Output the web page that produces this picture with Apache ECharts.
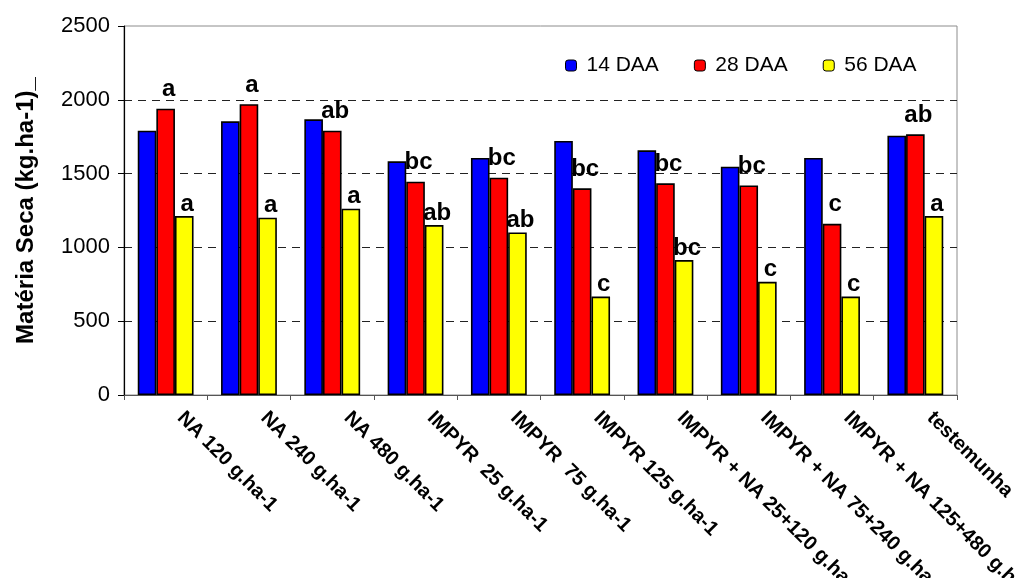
<!DOCTYPE html>
<html lang="pt">
<head>
    <meta charset="UTF-8">
    <title>Matéria Seca</title>
    <style>
        html, body {
            margin: 0;
            padding: 0;
            background: #ffffff;
        }
    </style>
</head>
<body>
<div id="chart-canvas" style="width: 1035px;height:578px"></div>
<script src="https://cdn.jsdelivr.net/npm/echarts@6/dist/echarts.min.js"></script>
<script type="text/javascript">
    // tratamentos
    const categories = [
        "NA 120 g.ha-1",
        "NA 240 g.ha-1",
        "NA 480 g.ha-1",
        "IMPYR  25 g.ha-1",
        "IMPYR  75 g.ha-1",
        "IMPYR 125 g.ha-1",
        "IMPYR + NA 25+120 g.ha-1",
        "IMPYR + NA 75+240 g.ha-1",
        "IMPYR + NA 125+480 g.ha-1",
        "testemunha"
    ]
    const seriesNames = ["14 DAA", "28 DAA", "56 DAA"]
    const values14 = [1791, 1854, 1868, 1583, 1606, 1721, 1658, 1547, 1606, 1757]
    const values28 = [1940, 1970, 1791, 1445, 1472, 1400, 1434, 1420, 1160, 1766]
    const values56 = [1212, 1201, 1262, 1151, 1101, 667, 914, 767, 667, 1212]
    // letras do teste de medias
    const letters28 = ["a", "a", "ab", "bc", "bc", "bc", "bc", "bc", "c", "ab"]
    const letters56 = ["a", "a", "a", "ab", "ab", "c", "bc", "c", "c", "a"]
    const yTicks = [0, 500, 1000, 1500, 2000, 2500]

    const font = "Arial, 'Liberation Sans', sans-serif"
    const colorList = ["#0000ff", "#ff0000", "#ffff00"]

    function barSeries(index, data, letters, distance) {
        return {
            name: seriesNames[index],
            type: 'bar',
            data: data,
            barGap: '0%',
            barCategoryGap: '33%',
            itemStyle: {
                color: colorList[index],
                borderColor: '#000',
                borderWidth: 1.6
            },
            label: {
                show: letters !== null,
                position: 'top',
                distance: distance,
                offset: [3, 0],
                fontFamily: font,
                fontSize: 24,
                fontWeight: 'bold',
                color: '#000',
                formatter: p => letters ? letters[p.dataIndex] : ''
            }
        }
    }

    let myChart = echarts.init(document.getElementById('chart-canvas'));
    myChart.setOption({
        animation: false,
        textStyle: {fontFamily: font},
        grid: {
            left: 124,
            top: 26,
            width: 833,
            height: 369,
            outerBoundsMode: 'none',
            containLabel: false,
            show: true,
            borderColor: '#8c8c8c',
            borderWidth: 1
        },
        legend: {
            data: seriesNames,
            left: 565,
            top: 55,
            padding: 0,
            itemWidth: 11,
            itemHeight: 11,
            itemGap: 35,
            itemStyle: {borderColor: '#000', borderWidth: 1},
            textStyle: {
                fontFamily: font,
                fontSize: 21,
                color: '#000',
                padding: [0, 0, 0, 5]
            }
        },
        xAxis: {
            type: 'category',
            data: categories,
            axisLine: {lineStyle: {color: '#555', width: 1.2}},
            axisTick: {show: true, length: 5, lineStyle: {color: '#555'}},
            axisLabel: {
                interval: 0,
                rotate: -45,
                margin: 5,
                padding: [0, 0, 0, 21],
                fontFamily: font,
                fontSize: 20,
                fontWeight: 'bold',
                color: '#000'
            }
        },
        yAxis: {
            type: 'value',
            min: yTicks[0],
            max: yTicks[yTicks.length - 1],
            interval: yTicks[1] - yTicks[0],
            name: 'Matéria Seca (kg.ha-1)_',
            nameLocation: 'middle',
            nameGap: 86,
            nameTextStyle: {
                fontFamily: font,
                fontSize: 24,
                fontWeight: 'bold',
                color: '#000'
            },
            axisLine: {show: true, lineStyle: {color: '#000', width: 1.2}},
            axisTick: {show: true, length: 6, lineStyle: {color: '#000'}},
            axisLabel: {
                margin: 14,
                fontFamily: font,
                fontSize: 22,
                color: '#000',
                formatter: v => String(v)
            },
            splitLine: {
                show: true,
                showMinLine: false,
                showMaxLine: false,
                lineStyle: {color: '#222', type: [8, 6], width: 1}
            }
        },
        series: [
            barSeries(0, values14, null, 0),
            barSeries(1, values28, letters28, 7),
            barSeries(2, values56, letters56, 0)
        ]
    });
</script>
</body>
</html>
